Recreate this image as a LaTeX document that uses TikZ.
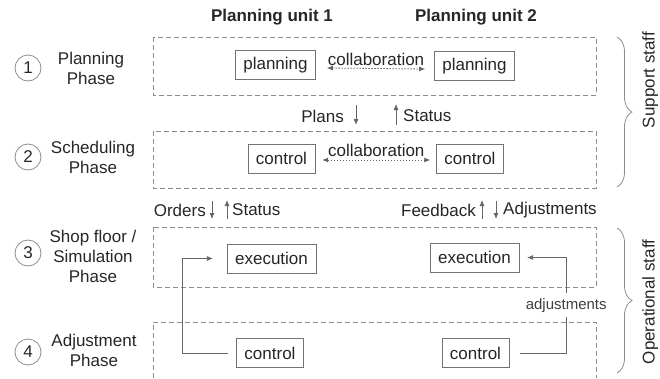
\documentclass[tikz,border=0pt]{standalone}
\usepackage{fontspec}
\setmainfont{Liberation Sans}
\usetikzlibrary{arrows.meta,decorations.pathreplacing}

\begin{document}
\begin{tikzpicture}[x=1pt, y=-1pt, >={Latex[length=6pt,width=5pt]},
    font=\fontsize{17}{20}\selectfont, text=black!85,
    box/.style={draw=black!55, fill=white, minimum height=29pt, inner xsep=8pt, inner ysep=0pt},
    phase/.style={draw=black!45, line width=0.8pt, dash pattern=on 5pt off 3pt},
    num/.style={circle, draw=black!45, line width=0.8pt, minimum size=26pt, inner sep=0pt},
    line/.style={draw=black!60, line width=0.8pt},
    staff/.style={rotate=90, anchor=north, inner sep=0pt, font=\fontsize{17}{20}\selectfont}]
    \useasboundingbox (0,0) rectangle (660,378);

    % phase frames
    \draw[phase] (153,37) rectangle (596,95);
    \draw[phase] (153,131) rectangle (596,188);
    \draw[phase] (153,227) rectangle (596,287);
    \draw[phase] (153,378) -- (153,322) -- (596,322) -- (596,378);

    % headers
    \node[font=\fontsize{17}{20}\selectfont\bfseries] (h1) at (272,17) {Planning unit 1};
    \node[font=\fontsize{17}{20}\selectfont\bfseries] (h2) at (476,17) {Planning unit 2};

    % phases
    \node[num] (n1) at (28,68) {1};
    \node[num] (n2) at (28,157) {2};
    \node[num] (n3) at (28,253) {3};
    \node[num] (n4) at (28,352) {4};
    \node[align=center] (l1) at (91,68) {Planning\\Phase};
    \node[align=center] (l2) at (93,157) {Scheduling\\Phase};
    \node[align=center] (l3) at (93,256) {Shop floor /\\Simulation\\Phase};
    \node[align=center] (l4) at (94,350) {Adjustment\\Phase};

    % units
    \node[box] (p1) at (275.5,65) {planning};
    \node[box] (p2) at (474.5,66) {planning};
    \node[box] (c1) at (281.5,158.5) {control};
    \node[box] (c2) at (470,158.5) {control};
    \node[box] (e1) at (271.5,258.5) {execution};
    \node[box] (e2) at (474.5,257.5) {execution};
    \node[box] (a1) at (270,353) {control};
    \node[box] (a2) at (475.5,353) {control};

    % collaboration
    \draw[line, <->, dash pattern=on 1.5pt off 1.5pt] ([xshift=11pt,yshift=-3pt]p1.east) -- node[above, inner sep=2pt] (k1) {collaboration} ([xshift=-9pt,yshift=-3pt]p2.west);
    \draw[line, <->, dash pattern=on 1.5pt off 1.5pt] ([xshift=7pt,yshift=-1.5pt]c1.east) -- node[above, inner sep=3pt] (k2) {collaboration} ([xshift=-6pt,yshift=-1.5pt]c2.west);

    % between phases
    \node[anchor=east, inner sep=0pt] (plans) at (344,116) {Plans};
    \node[anchor=west, inner sep=0pt] (st1) at (403,116) {Status};
    \coordinate (pa) at (356,105);
    \coordinate (pb) at (356,125);
    \coordinate (sa) at (396,125);
    \coordinate (sb) at (396,104);
    \draw[line, ->] (pa) -- (pb);
    \draw[line, ->] (sa) -- (sb);

    \node[anchor=east, inner sep=0pt] (ord) at (206,210) {Orders};
    \node[anchor=west, inner sep=0pt] (st2) at (232,210) {Status};
    \coordinate (oa) at (212,201);
    \coordinate (ob) at (212,219);
    \coordinate (ta) at (227,219);
    \coordinate (tb) at (227,200);
    \draw[line, ->] (oa) -- (ob);
    \draw[line, ->] (ta) -- (tb);

    \node[anchor=east, inner sep=0pt] (fb) at (476,210) {Feedback};
    \node[anchor=west, inner sep=0pt] (adj) at (503,210) {Adjustments};
    \coordinate (fa) at (482,219);
    \coordinate (fbb) at (482,200);
    \coordinate (da) at (496,201);
    \coordinate (db) at (496,219);
    \draw[line, ->] (fa) -- (fbb);
    \draw[line, ->] (da) -- (db);

    % adjustment loops
    \draw[line, ->] ([xshift=-8pt]a1.west) -- ++(-45.5,0) |- ([xshift=-14pt]e1.west);
    \draw[line, ->] ([xshift=11pt]a2.east) -- ++(46,0) |- node[pos=0.25, fill=white, inner xsep=1pt, inner ysep=5pt, font=\fontsize{15}{18}\selectfont, text=black!75] (ad) {adjustments} ([xshift=8pt]e2.east);

    % staff braces
    \draw[draw=black!45, line width=0.8pt, decorate, decoration={brace, amplitude=15pt}] (617,37) -- (617,187);
    \draw[draw=black!45, line width=0.8pt, decorate, decoration={brace, amplitude=15pt}] (617,228) -- (617,373);
    \node[staff] (ss) at (642,80) {Support staff};
    \node[staff] (os) at (642,302) {Operational staff};
\end{tikzpicture}
\end{document}
